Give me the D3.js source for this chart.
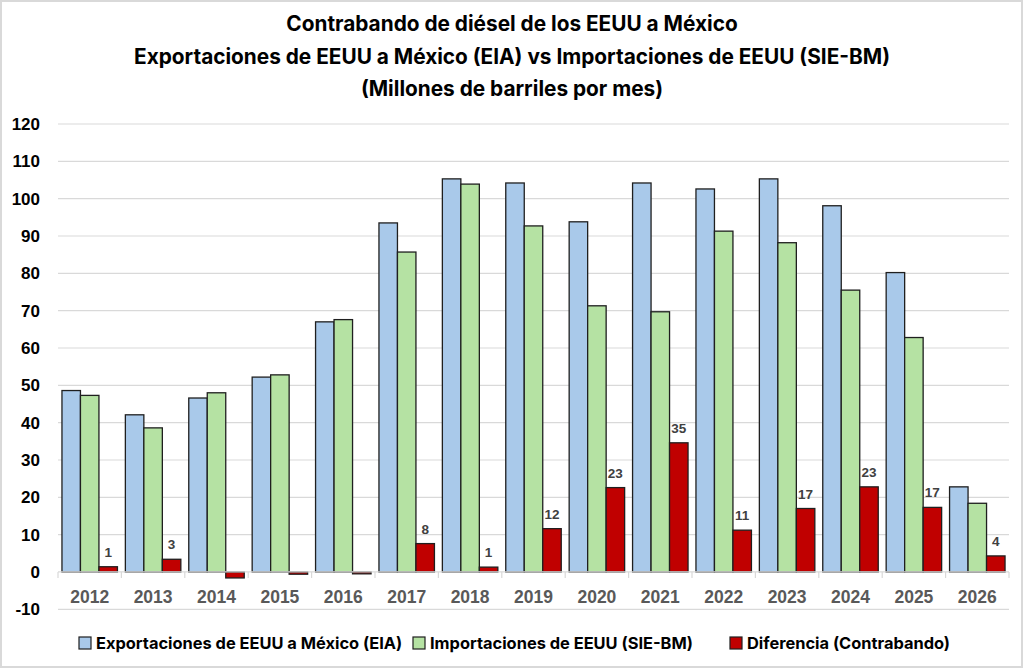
<!DOCTYPE html>
<html>
<head>
<meta charset="utf-8">
<script src="https://cdn.jsdelivr.net/npm/d3@7"></script>
<style>
  body { margin: 0; background: #fff; }
  svg { display: block; }
</style>
</head>
<body>
<div id="chart"></div>
<script>
// Chart data
var years = ["2012", "2013", "2014", "2015", "2016", "2017", "2018", "2019",
  "2020", "2021", "2022", "2023", "2024", "2025", "2026"];
var exportaciones = [48.6, 42.1, 46.6, 52.2, 67.0, 93.5, 105.3, 104.2, 93.8, 104.2, 102.6, 105.3, 98.1, 80.2, 22.8];
var importaciones = [47.3, 38.6, 48.0, 52.8, 67.6, 85.7, 103.9, 92.7, 71.3, 69.7, 91.3, 88.2, 75.5, 62.8, 18.4];
var diferencia = [1.4, 3.4, -1.6, -0.6, -0.5, 7.6, 1.3, 11.6, 22.6, 34.6, 11.2, 17.0, 22.8, 17.3, 4.3];
var seriesNames = ["Exportaciones de EEUU a México (EIA)", "Importaciones de EEUU (SIE-BM)", "Diferencia (Contrabando)"];
var yTicks = [-10, 0, 10, 20, 30, 40, 50, 60, 70, 80, 90, 100, 110, 120];
var titleLines = ["Contrabando de diésel de los EEUU a México",
  "Exportaciones de EEUU a México (EIA) vs Importaciones de EEUU (SIE-BM)",
  "(Millones de barriles por mes)"];

var colors = ["#a9c9ea", "#b5e2a3", "#c00000"];

var svgWidth = 1024;
var svgHeight = 669;
var margin = { top: 124, right: 16, bottom: 60, left: 58 };
var width = 1009 - margin.left;

var svg = d3.select("#chart")
  .append("svg")
  .attr("width", svgWidth)
  .attr("height", svgHeight);

// outer frame
svg.append("rect")
  .attr("x", 1).attr("y", 1)
  .attr("width", svgWidth - 3).attr("height", svgHeight - 3)
  .attr("fill", "#fff")
  .attr("stroke", "#d9d9d9")
  .attr("stroke-width", 2);

// title
svg.append("g").selectAll("text")
  .data(titleLines)
  .enter()
  .append("text")
  .attr("x", 512)
  .attr("y", (d, i) => 31 + i * 32.5)
  .attr("text-anchor", "middle")
  .style("font-family", "Inter, 'Noto Sans', sans-serif")
  .style("font-weight", "700")
  .style("font-size", "20.8px")
  .style("fill", "#000")
  .text(d => d);

var chartGroup = svg.append("g")
  .attr("transform", `translate(${margin.left}, 0)`);

var y = d3.scaleLinear().domain([-10, 120]).range([609.3, 124]);
var x0 = d3.scaleBand().domain(years).range([0, width]).paddingInner(0.125).paddingOuter(0.0625);
var x1 = d3.scaleBand().domain([0, 1, 2]).range([0, x0.bandwidth()]);

// gridlines
chartGroup.append("g").selectAll("line")
  .data(yTicks.filter(t => t !== 0))
  .enter()
  .append("line")
  .attr("x1", 0).attr("x2", width)
  .attr("y1", d => y(d)).attr("y2", d => y(d))
  .attr("stroke", "#d9d9d9")
  .attr("stroke-width", 1.2);

// y tick labels
svg.append("g").selectAll("text")
  .data(yTicks)
  .enter()
  .append("text")
  .attr("x", 40)
  .attr("y", d => y(d))
  .attr("dy", "0.36em")
  .attr("text-anchor", "end")
  .style("font-family", "'Liberation Sans', Arial, sans-serif")
  .style("font-weight", "700")
  .style("font-size", "17px")
  .style("fill", "#000")
  .text(d => d);

// bars
var seriesData = [exportaciones, importaciones, diferencia];
var groups = chartGroup.selectAll("g.year")
  .data(years)
  .enter()
  .append("g")
  .attr("class", "year")
  .attr("transform", d => `translate(${x0(d)}, 0)`);

groups.selectAll("rect")
  .data((d, i) => seriesData.map((s, k) => ({ k: k, v: s[i] })))
  .enter()
  .append("rect")
  .attr("x", d => x1(d.k))
  .attr("y", d => y(Math.max(0, d.v)))
  .attr("width", x1.bandwidth())
  .attr("height", d => Math.abs(y(d.v) - y(0)))
  .attr("fill", d => colors[d.k])
  .attr("stroke", "#1f1f1f")
  .attr("stroke-width", 1.3);

// zero axis + category ticks
chartGroup.append("line")
  .attr("x1", 0).attr("x2", width)
  .attr("y1", y(0)).attr("y2", y(0))
  .attr("stroke", "#d9d9d9")
  .attr("stroke-width", 1.2);

chartGroup.append("g").selectAll("line")
  .data(d3.range(years.length + 1))
  .enter()
  .append("line")
  .attr("x1", d => d * width / years.length)
  .attr("x2", d => d * width / years.length)
  .attr("y1", y(0)).attr("y2", y(0) + 6)
  .attr("stroke", "#d9d9d9")
  .attr("stroke-width", 1.2);

// data labels on the difference series (positive only)
groups.append("text")
  .datum((d, i) => diferencia[i])
  .filter(d => d > 0)
  .attr("x", x1(2) + x1.bandwidth() / 2)
  .attr("y", d => y(d) - 10)
  .attr("text-anchor", "middle")
  .style("font-family", "'Liberation Sans', Arial, sans-serif")
  .style("font-weight", "700")
  .style("font-size", "13.5px")
  .style("fill", "#404040")
  .text(d => d3.format(".0f")(d));

// year labels
chartGroup.append("g").selectAll("text")
  .data(years)
  .enter()
  .append("text")
  .attr("x", d => x0(d) + x0.bandwidth() / 2)
  .attr("y", 597)
  .attr("dy", "0.36em")
  .attr("text-anchor", "middle")
  .style("font-family", "'Liberation Sans', Arial, sans-serif")
  .style("font-weight", "700")
  .style("font-size", "17.5px")
  .style("fill", "#595959")
  .text(d => d);

// legend
var legendX = [79, 413, 730];
var legend = svg.append("g").selectAll("g")
  .data(seriesNames)
  .enter()
  .append("g")
  .attr("transform", (d, i) => `translate(${legendX[i]}, 643)`);

legend.append("rect")
  .attr("x", 0).attr("y", -6)
  .attr("width", 12).attr("height", 12)
  .attr("fill", (d, i) => colors[i])
  .attr("stroke", "#1f1f1f")
  .attr("stroke-width", 1.2);

legend.append("text")
  .attr("x", 17)
  .attr("y", 0)
  .attr("dy", "0.36em")
  .style("font-family", "Inter, 'Noto Sans', sans-serif")
  .style("font-weight", "700")
  .style("font-size", "16.4px")
  .style("fill", "#000")
  .text(d => d);
</script>
</body>
</html>
